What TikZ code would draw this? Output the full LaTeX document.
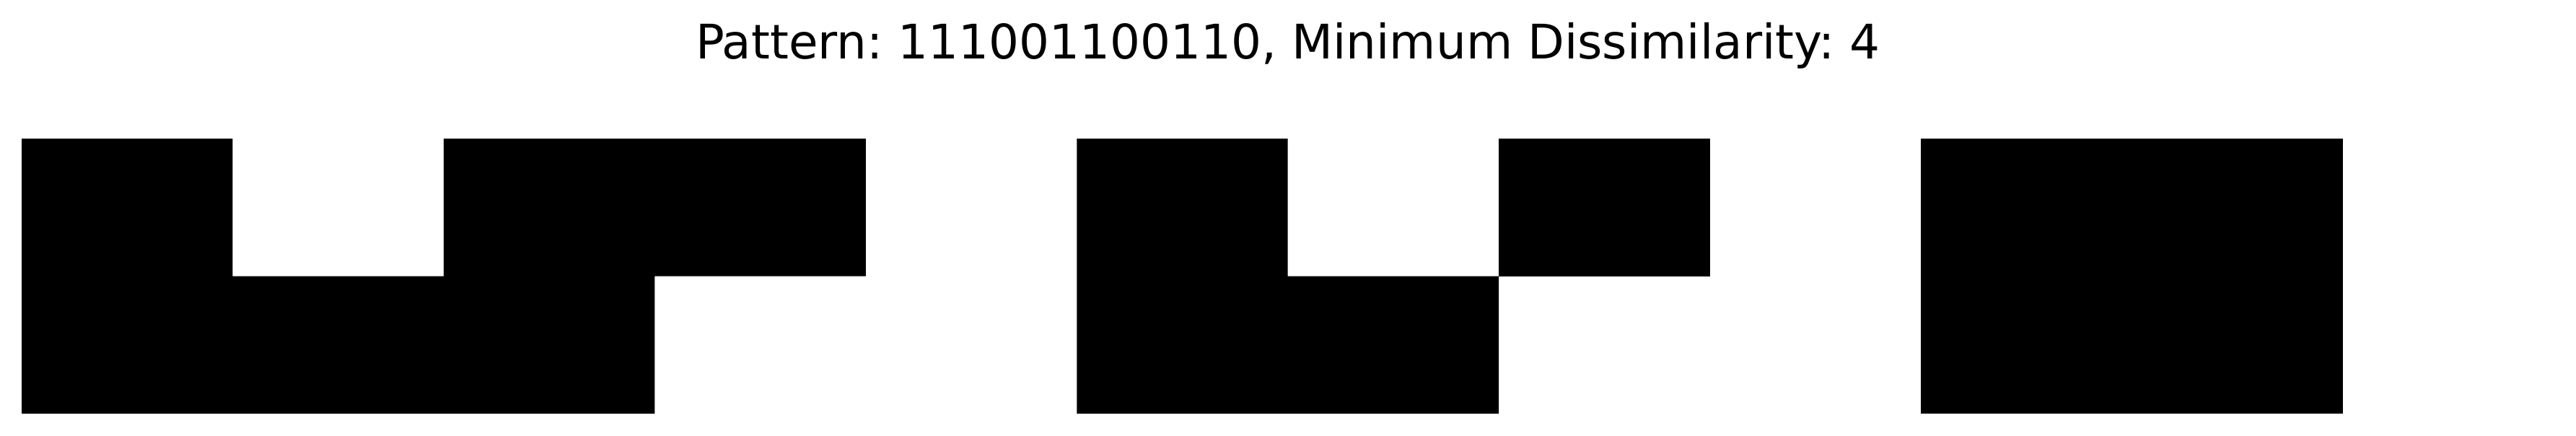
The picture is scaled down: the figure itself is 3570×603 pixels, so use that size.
\documentclass[tikz,border=0pt]{standalone}
\usepackage{fontspec}
\setmainfont{DejaVu Sans}
\frenchspacing

\tikzset{every picture/.style={line width=0.75pt}}
\tikzset{cell/.style={fill=black, draw=none}}

\begin{document}
\begin{tikzpicture}[x=0.2pt,y=0.2pt,yscale=-1,xscale=1]
%set diagram left start at 0, and has height of 603
\useasboundingbox (0,0) rectangle (3570,603);

%Shape: Polygon [id:blk_a]
\path [cell] (30,192) -- (322.45,192) -- (322.45,382.5) -- (614.9,382.5) -- (614.9,192) -- (1199.8,192) -- (1199.8,382.5) -- (907.35,382.5) -- (907.35,573) -- (30,573) -- cycle ;
%Shape: Polygon [id:blk_b]
\path [cell] (1492.25,192) -- (1784.7,192) -- (1784.7,382.5) -- (2077.15,382.5) -- (2077.15,573) -- (1492.25,573) -- cycle ;
%Shape: Rectangle [id:blk_c]
\path [cell] (2077.15,192) -- (2369.6,192) -- (2369.6,382.5) -- (2077.15,382.5) -- cycle ;
%Shape: Rectangle [id:blk_d]
\path [cell] (2662.05,192) -- (3246.95,192) -- (3246.95,573) -- (2662.05,573) -- cycle ;

% Text Node
\draw (1785,81.7) node [anchor=base][inner sep=0.75pt] (title) {\fontsize{13.2}{15.8}\selectfont Pattern: 111001100110, Minimum Dissimilarity: 4};

\end{tikzpicture}
\end{document}
